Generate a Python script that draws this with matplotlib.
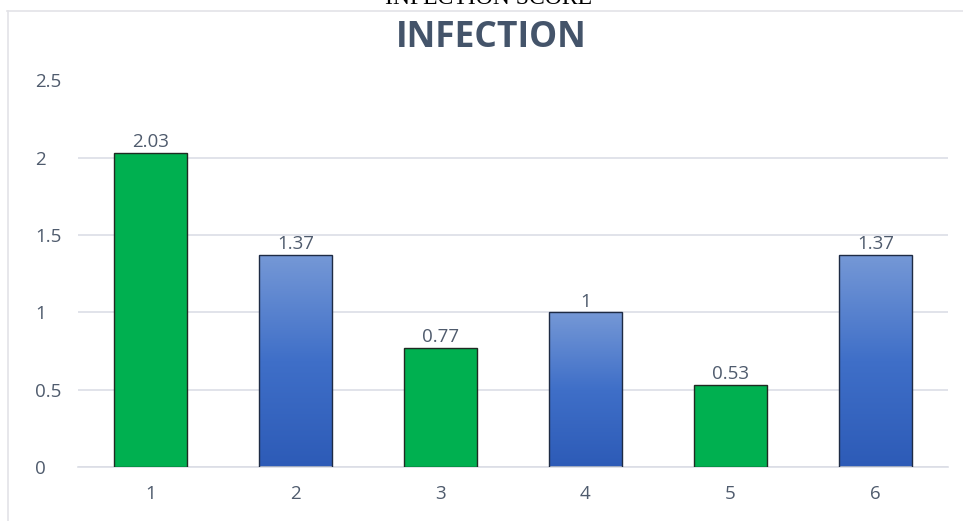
import matplotlib.pyplot as plt
import numpy as np
from matplotlib.colors import LinearSegmentedColormap

categories = ["1", "2", "3", "4", "5", "6"]
scores = [2.03, 1.37, 0.77, 1.0, 0.53, 1.37]
labels = ["2.03", "1.37", "0.77", "1", "0.53", "1.37"]
bar_kind = ["green", "blue", "green", "blue", "green", "blue"]
yticks = [0, 0.5, 1, 1.5, 2, 2.5]
ytick_labels = ["0", "0.5", "1", "1.5", "2", "2.5"]

txt_color = "#4f5b6d"
grid_color = "#dcdee6"
blue_map = LinearSegmentedColormap.from_list("bluefade", ["#2d5bb7", "#3f6fc8", "#7598d6"])

fig = plt.figure(figsize=(9.63, 5.21), dpi=100)

# frame of the chart area (runs off right/bottom edges)
fig.add_artist(plt.Line2D([7 / 963, 1.0], [1 - 10.5 / 521] * 2, color="#e3e3e8", lw=1.2))
fig.add_artist(plt.Line2D([7.5 / 963] * 2, [0, 1 - 10.5 / 521], color="#e3e3e8", lw=1.2))

# heading above the chart, clipped by the top edge
fig.text(488 / 963, 1 - 4 / 521, "INFECTION SCORE", ha="center", va="baseline",
         family="Liberation Serif", fontsize=17, color="black")

ax = fig.add_axes([78 / 963, 1 - 467 / 521, 870 / 963, 386.5 / 521])
x = np.arange(len(categories))
width = 0.5

for xi, val, kind in zip(x, scores, bar_kind):
    if kind == "green":
        ax.bar(xi, val, width, color="#00b050", edgecolor="#1f2a22", linewidth=1.0, zorder=3)
    else:
        grad = np.linspace(0, 1, 256).reshape(-1, 1)
        ax.imshow(grad, cmap=blue_map, origin="lower", aspect="auto",
                  extent=[xi - width / 2, xi + width / 2, 0, val], zorder=2)
        ax.bar(xi, val, width, color="none", edgecolor="#1e2b44", linewidth=1.0, zorder=3)

for xi, val, lab in zip(x, scores, labels):
    ax.text(xi, val + 0.012, lab, ha="center", va="bottom", fontsize=13.5,
            color=txt_color, family="Open Sans")

ax.set_xlim(-0.5, len(categories) - 0.5)
ax.set_ylim(0, 2.5)
ax.set_xticks(x)
ax.set_xticklabels(categories)
ax.set_yticks(yticks)
ax.set_yticklabels(ytick_labels)
for lbl in ax.get_yticklabels():
    lbl.set_horizontalalignment("left")
ax.tick_params(axis="y", length=0, pad=31, labelsize=13.5, labelcolor=txt_color)
ax.tick_params(axis="x", length=0, pad=13, labelsize=13.5, labelcolor=txt_color)
for lbl in ax.get_xticklabels() + ax.get_yticklabels():
    lbl.set_family("Open Sans")

ax.grid(axis="y", color=grid_color, lw=1.2, zorder=0)
ax.set_axisbelow(True)
for s in ["top", "right", "left"]:
    ax.spines[s].set_visible(False)
ax.spines["bottom"].set_color(grid_color)
ax.spines["bottom"].set_linewidth(1.2)

fig.text(491 / 963, 1 - 47 / 521, "INFECTION", ha="center", va="baseline",
         fontsize=25.5, fontweight="bold", color="#44546a", family="Open Sans")

fig.savefig("out.png", dpi=100)
